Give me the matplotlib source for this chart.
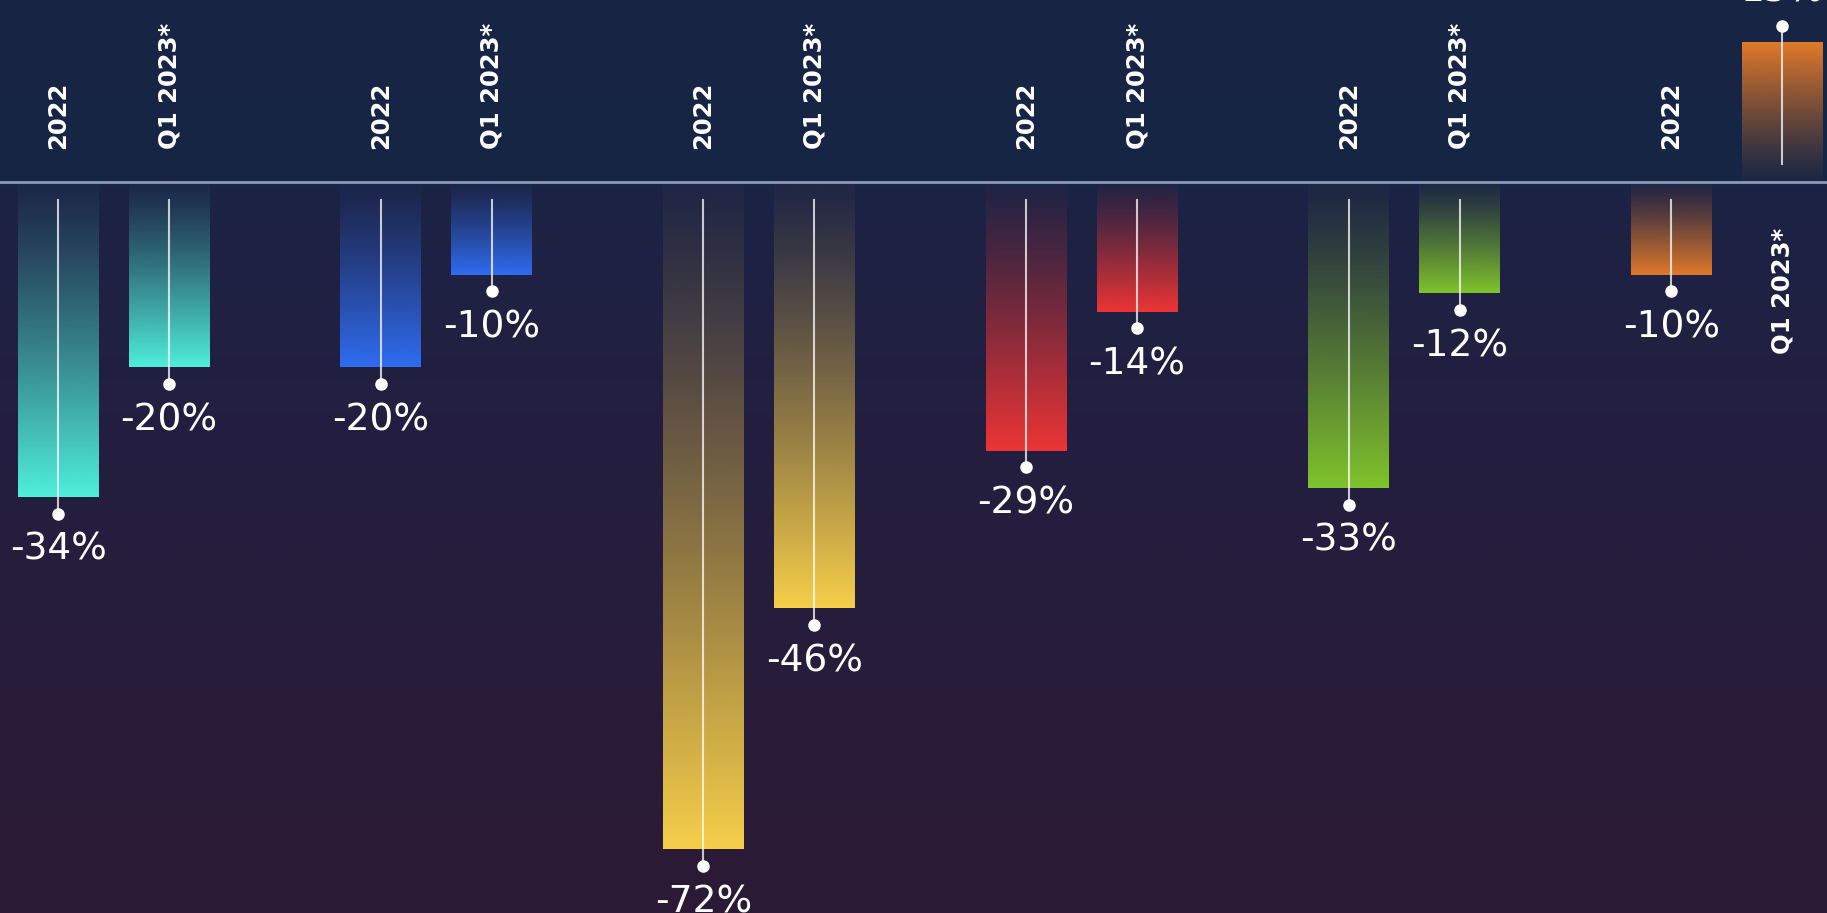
import numpy as np
import matplotlib
matplotlib.use("Agg")
import matplotlib.pyplot as plt
from matplotlib.colors import to_rgb, LinearSegmentedColormap

# data (percent change)
periods = ["2022", "Q1 2023*"]
values_2022 = [-34, -20, -72, -29, -33, -10]
values_q1_2023 = [-20, -10, -46, -14, -12, 15]
group_colors = ["#4ff0dc", "#2f6df2", "#f7d04a", "#ee3535", "#80c52c", "#e27a2a"]

fig = plt.figure(figsize=(18.27, 9.13), dpi=100)
ax = fig.add_axes([0, 0, 1, 1])
ax.axis("off")

x_min, x_max = -0.352, 5.31
y_min, y_max = -78.86, 19.63

# background
bg = LinearSegmentedColormap.from_list(
    "bg", [(0, "#2c1a35"), (0.55, "#231f40"), (0.79, "#1c2345"), (0.8, "#182646"), (1, "#172444")])
grad = np.linspace(0, 1, 400).reshape(-1, 1)
ax.imshow(grad, cmap=bg, extent=(x_min, x_max, y_min, y_max), origin="lower",
          aspect="auto", zorder=0)

off = 0.172
w = 0.251

def grad_bar(x, v, color):
    r, g, b = to_rgb(color)
    t = np.linspace(0, 1, 300)
    a = np.clip(0.02 + 0.98 * t ** 1.2, 0, 1)
    img = np.zeros((300, 1, 4))
    img[:, 0, 0] = r
    img[:, 0, 1] = g
    img[:, 0, 2] = b
    img[:, 0, 3] = a
    ax.imshow(img, extent=(x - w / 2, x + w / 2, 0, v), origin="lower",
              aspect="auto", zorder=2, interpolation="bilinear")

for i, c in enumerate(group_colors):
    for j, v in enumerate([values_2022[i], values_q1_2023[i]]):
        x = i + (-off if j == 0 else off)
        grad_bar(x, v, c)
        s = np.sign(v)
        dot = v + s * 1.8
        ax.plot([x, x], [s * 1.9, dot], color="white", alpha=0.75, lw=1.5, zorder=3)
        ax.plot(x, dot, "o", color="white", ms=8, zorder=4)
        lab_off = 5.7 if v < 0 else 5.5
        ax.text(x, v + s * lab_off, f"{v}%", color="white", fontsize=27,
                ha="center", va="center", zorder=5)
        if v < 0:
            ax.text(x, 3.6, periods[j], color="white", fontsize=17.5, fontweight="bold",
                    rotation=90, ha="center", va="bottom", zorder=5)
        else:
            ax.text(x, -4.9, periods[j], color="white", fontsize=17.5, fontweight="bold",
                    rotation=90, ha="center", va="top", zorder=5)

ax.axhline(0, color="#8d99b6", lw=2, zorder=3)

ax.set_xlim(x_min, x_max)
ax.set_ylim(y_min, y_max)
fig.savefig("out.png", dpi=100)
